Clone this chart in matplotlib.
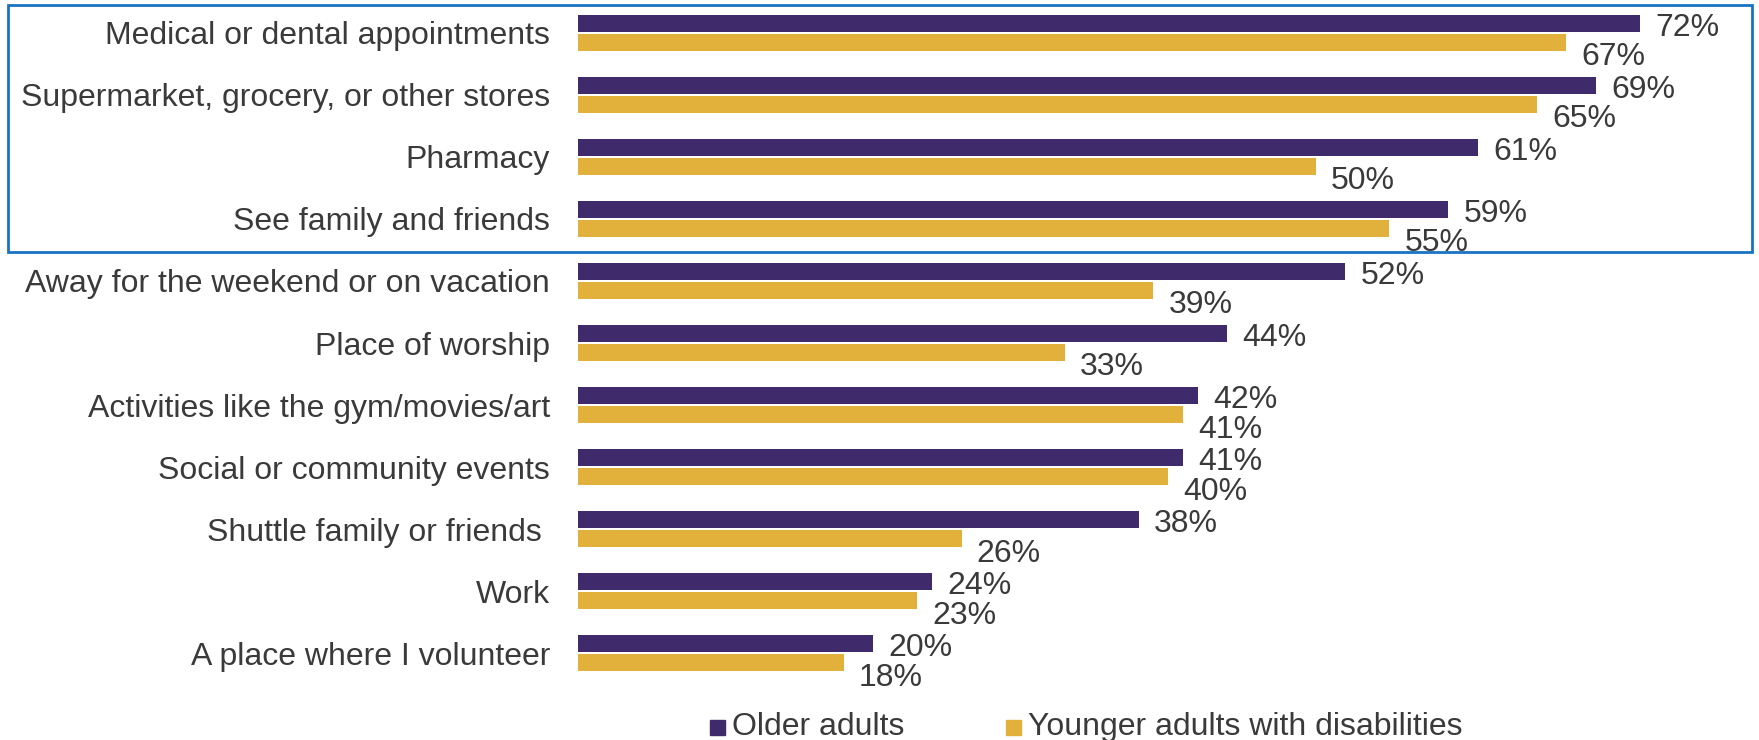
import matplotlib
matplotlib.use("Agg")
import matplotlib.pyplot as plt
from matplotlib.patches import Rectangle
import numpy as np

categories = [
    "Medical or dental appointments",
    "Supermarket, grocery, or other stores",
    "Pharmacy",
    "See family and friends",
    "Away for the weekend or on vacation",
    "Place of worship",
    "Activities like the gym/movies/art",
    "Social or community events",
    "Shuttle family or friends ",
    "Work",
    "A place where I volunteer",
]
older = [72, 69, 61, 59, 52, 44, 42, 41, 38, 24, 20]
younger = [67, 65, 50, 55, 39, 33, 41, 40, 26, 23, 18]
series_names = ["Older adults", "Younger adults with disabilities"]

PURPLE = "#3F2A6B"
GOLD = "#E2B13C"
TEXT = "#3A3A3A"
BOX = "#1A73C2"
FONT = ["Liberation Sans", "DejaVu Sans"]
FS = 23

plt.rcParams["font.family"] = FONT

W, H = 1759, 740
fig = plt.figure(figsize=(W / 100, H / 100), dpi=100)

# axes geometry in pixels
ax_left, ax_right = 578, 578 + 1180
ax_top, ax_bottom = 1.9, 684.1
ax = fig.add_axes([ax_left / W, (H - ax_bottom) / H,
                   (ax_right - ax_left) / W, (ax_bottom - ax_top) / H])

n = len(categories)
y = np.arange(n)
bh = 0.273
off = 0.153
ax.barh(y - off, older, height=bh, color=PURPLE, label=series_names[0])
ax.barh(y + off, younger, height=bh, color=GOLD, label=series_names[1])

ax.set_xlim(0, 80)
ax.set_ylim(n - 0.5, -0.5)
ax.set_yticks(y)
ax.set_yticklabels(categories, fontsize=FS, color=TEXT)
ax.tick_params(axis="y", length=0, pad=20)
ax.set_xticks([])
for s in ax.spines.values():
    s.set_visible(False)

for i in range(n):
    ax.annotate(f"{older[i]}%", (older[i], y[i] - off), xytext=(11, -3.2),
                textcoords="offset points", ha="left", va="center",
                fontsize=FS, color=TEXT)
    ax.annotate(f"{younger[i]}%", (younger[i], y[i] + off), xytext=(11, -10.8),
                textcoords="offset points", ha="left", va="center",
                fontsize=FS, color=TEXT)

# highlight box (figure pixels)
bx0, by0, bx1, by1 = 8, 5, 1752, 252
fig.patches.append(Rectangle((bx0 / W, 1 - by1 / H), (bx1 - bx0) / W, (by1 - by0) / H,
                             transform=fig.transFigure, fill=False,
                             edgecolor=BOX, linewidth=2.0))

# legend
ly = 727
for x0, col, name, tx in [(710, PURPLE, series_names[0], 732),
                          (1006, GOLD, series_names[1], 1028)]:
    fig.patches.append(Rectangle((x0 / W, 1 - (ly + 8) / H), 15 / W, 15 / H,
                                 transform=fig.transFigure, color=col))
    fig.text(tx / W, 1 - ly / H, name, fontsize=FS, color=TEXT,
             ha="left", va="center")

fig.savefig("out.png", dpi=100)
